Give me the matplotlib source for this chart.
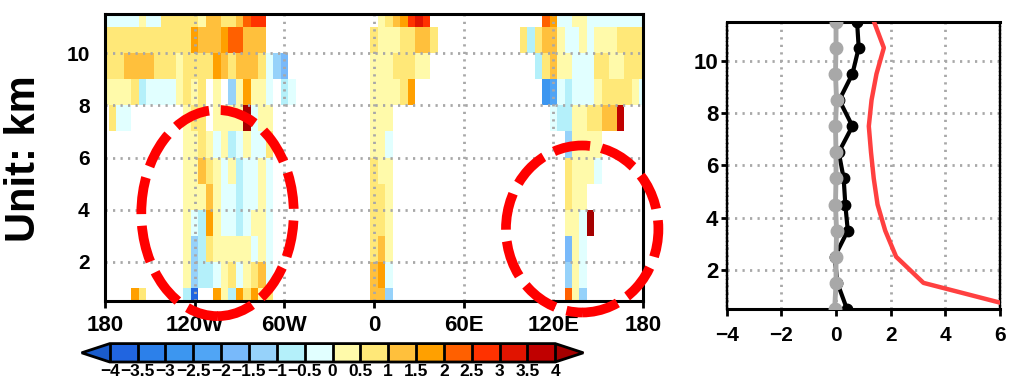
import numpy as np
import matplotlib
matplotlib.use('Agg')
import matplotlib.pyplot as plt
from matplotlib.colors import ListedColormap, BoundaryNorm
from matplotlib.patches import Ellipse

plt.rcParams['font.family'] = ['Liberation Sans', 'DejaVu Sans']
plt.rcParams['font.weight'] = 'bold'

# ---- data -------------------------------------------------------------
lons = np.arange(-180, 181, 5)          # 73 columns
heights = np.arange(0.5, 12.0, 1.0)     # 12 levels (km)

# one code per 5-degree column, one string per level (bottom -> top)
# '.' = missing, a..h = negative bins, 1..9 = positive bins
code_values = {'.': np.nan,
               'a': -0.25, 'b': -0.75, 'c': -1.25, 'd': -1.75,
               'e': -2.25, 'f': -2.75, 'g': -3.25, 'h': -3.75,
               '1': 0.25, '2': 0.75, '3': 1.25, '4': 1.75, '5': 2.25,
               '6': 2.75, '7': 3.25, '8': 3.75, '9': 4.25}

level_rows = [
    "....42.... .bh..41b42 412....... ......33c. .......... .......... ..51c..... ...",  # 0.5
    ".......... .1cbba12a1 23a....... ......34a. .......... .......... ..c1a..... ...",  # 1.5
    ".......... .1cb211111 a1a....... ......231. .......... .......... ..d1a..... ...",  # 2.5
    ".......... .1ab41aaba 11a....... ......221. .......... .......... ..11a9.... ...",  # 3.5
    ".......... .11131aaba a1a....... ......221. .......... .......... ..211..... ...",  # 4.5
    ".......... .11321a1ba a1a....... ......211. .......... .......... ..2111a... ...",  # 5.5
    ".......... .1121a1ba1 aa2....... ......11a. .......... .......... ..c1111... ...",  # 6.5
    ".2aa...... .122.11119 a11....... ......111. .......... .......... abb1122338 ...",  # 7.5
    "11112baaaa 1212.1.c14 11a.ba.... ......1111 24........ .........f eabaaa1222 21a",  # 8.5
    "2223333222 1222243233 32acd..... ......1112 2211...... ........b2 311aaa2211 222",  # 9.5
    "2222222222 2243334553 33........ ......2111 22332..... ......2b23 31aa1a1112 222",  # 10.5
    "aaaaa1aa22 2221332235 66........ .......123 4676...... .........5 4aa11aaaaa aaa",  # 11.5
]

prof_heights = heights
red_profile = [6.9, 3.2, 2.2, 1.8, 1.52, 1.38, 1.28, 1.2, 1.3, 1.48, 1.75, 1.39]
black_profile = [0.4, 0.05, -0.05, 0.43, 0.34, 0.28, 0.1, 0.6, 0.12, 0.6, 0.83, 0.77]
gray_profile = [-0.05, 0.0, 0.0, 0.02, -0.02, 0.0, 0.0, -0.02, 0.02, -0.02, 0.0, 0.0]

levels = np.arange(-4, 4.01, 0.5)
colors = ['#2165e0', '#2c80ea', '#3c96f0', '#50a5f5', '#78b9fa', '#96d2fa',
          '#b4f0fa', '#e1ffff', '#fffaaa', '#ffe878', '#ffc03c', '#ffa000',
          '#ff6000', '#ff3200', '#e11400', '#c00000']

xtick_pos = [-180, -120, -60, 0, 60, 120, 180]
xtick_lab = ['180', '120W', '60W', '0', '60E', '120E', '180']

# ---- build grid -------------------------------------------------------
grid = np.array([[code_values[ch] for ch in r.replace(' ', '')] for r in level_rows])
grid = np.ma.masked_invalid(grid)

cmap = ListedColormap(colors)
cmap.set_under('#1a5ccc')
cmap.set_over('#a50000')
cmap.set_bad('white')
norm = BoundaryNorm(levels, cmap.N)

W, H = 1012, 382
fig = plt.figure(figsize=(W / 100, H / 100), dpi=100)

grid_style = dict(color='#a8a8a8', linestyle=(0, (0.8, 1.9)), linewidth=2)

# ---- main cross-section ----------------------------------------------
ax = fig.add_axes([105 / W, 1 - 301 / H, 538 / W, 287 / H])
lon_edges = np.append(lons - 2.5, lons[-1] + 2.5)
z_edges = np.append(heights - 0.5, heights[-1] + 0.5)
pc = ax.pcolormesh(lon_edges, z_edges, grid, cmap=cmap, norm=norm, shading='flat')
ax.set_xlim(-180, 180)
ax.set_ylim(0.5, 11.5)
ax.set_xticks(xtick_pos)
ax.set_xticklabels(xtick_lab)
ax.set_yticks([2, 4, 6, 8, 10])
ax.tick_params(axis='x', direction='out', length=5, width=2, pad=5, labelsize=16)
ax.tick_params(axis='y', length=0, pad=11, labelsize=15)
ax.grid(True, **grid_style)
ax.set_axisbelow(False)
for s in ax.spines.values():
    s.set_linewidth(2.2)
    s.set_zorder(5)

# red dashed ellipses highlighting regions
for center, w, h in [((-104.7, 3.87), 102, 7.9), ((139.3, 3.26), 102, 6.4)]:
    e = Ellipse(center, w, h, fill=False, edgecolor='#ff0000', linewidth=7,
                linestyle=(0, (3.8, 1.2)), clip_on=False, zorder=10)
    ax.add_patch(e)

fig.text(24 / W, 1 - 159 / H, 'Unit: km', rotation=90, ha='center', va='center',
         fontsize=30, fontweight='bold')

# ---- colorbar ---------------------------------------------------------
cax = fig.add_axes([81.7 / W, 1 - 362 / H, 501.6 / W, 18.4 / H])
cb = fig.colorbar(pc, cax=cax, orientation='horizontal', extend='both',
                  extendfrac=0.063, drawedges=True, ticks=levels)
cb.ax.set_xticklabels([('%g' % v).replace('-', '\u2212') for v in levels])
cb.ax.tick_params(length=0, pad=1.5, labelsize=12.5)
cb.outline.set_linewidth(2)
cb.dividers.set_linewidth(2)
cb.dividers.set_color('black')

# ---- vertical profile -------------------------------------------------
ax2 = fig.add_axes([726.7 / W, 1 - 309 / H, 273.3 / W, 287.3 / H])
ax2.plot(red_profile, prof_heights, color='#ff4040', linewidth=3.2, zorder=3)
ax2.plot(black_profile, prof_heights, color='black', linewidth=3, marker='o',
         markersize=7.5, zorder=4)
ax2.plot(gray_profile, prof_heights, color='#a8a8a8', linewidth=3.5, marker='o',
         markersize=9, zorder=5)
ax2.set_xlim(-4, 6)
ax2.set_ylim(0.5, 11.5)
ax2.set_xticks([-4, -2, 0, 2, 4, 6])
ax2.set_yticks([2, 4, 6, 8, 10])
ax2.tick_params(axis='x', direction='out', length=5, width=2, pad=7, labelsize=15)
ax2.tick_params(axis='y', direction='out', length=4.5, width=2, pad=1.5, labelsize=16)
ax2.grid(True, **grid_style)
ax2.set_axisbelow(True)
for side in ['top', 'bottom']:
    ax2.spines[side].set_linewidth(2.2)
for side in ['left', 'right']:
    ax2.spines[side].set_linewidth(1.7)
    ax2.spines[side].set_linestyle((0, (1, 0.6)))

fig.savefig('out.png', dpi=100)
plt.close(fig)
